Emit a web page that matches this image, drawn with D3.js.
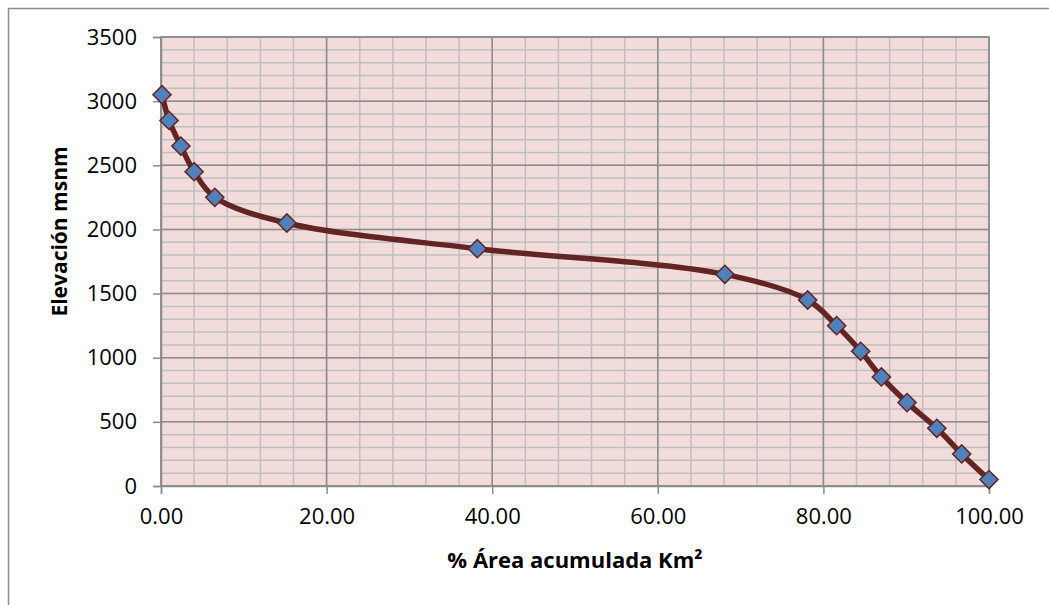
<!DOCTYPE html>
<html>
<head>
<meta charset="utf-8">
<script src="https://cdn.jsdelivr.net/npm/d3@7"></script>
<style>
  body { margin: 0; background: #fff; }
  svg { display: block; font-family: "Open Sans", Lato, sans-serif; }
</style>
</head>
<body>
<svg id="chart" width="1049" height="605"></svg>
<script>
// curva hipsométrica
const areaPct = [0.12, 0.97, 2.4, 4.0, 6.5, 15.2, 38.2, 68.1, 78.1, 81.6, 84.5, 87.0, 90.1, 93.7, 96.7, 100];
const elevation = [3050, 2850, 2650, 2450, 2250, 2050, 1850, 1650, 1450, 1250, 1050, 850, 650, 450, 250, 50];
const xTicks = [0, 20, 40, 60, 80, 100];
const yTicks = [0, 500, 1000, 1500, 2000, 2500, 3000, 3500];
const xMinor = d3.range(0, 101, 4);
const yMinor = d3.range(0, 3501, 100);

const svg = d3.select("#chart");
const plotLeft = 161, plotRight = 989, plotTop = 37, plotBottom = 486;

const x = d3.scaleLinear().domain([0, 100]).range([plotLeft, plotRight]);
const y = d3.scaleLinear().domain([0, 3500]).range([plotBottom, plotTop]);

// outer chart frame
svg.append("rect")
  .attr("x", 8.5).attr("y", 8.5)
  .attr("width", 1100).attr("height", 700)
  .attr("fill", "none").attr("stroke", "#8c8c8c").attr("stroke-width", 1.5);

// plot area
svg.append("rect")
  .attr("x", plotLeft).attr("y", plotTop)
  .attr("width", plotRight - plotLeft).attr("height", plotBottom - plotTop)
  .attr("fill", "#f2dcdb");

const grid = svg.append("g");
grid.selectAll(".vmin").data(xMinor).join("line")
  .attr("x1", d => x(d)).attr("x2", d => x(d))
  .attr("y1", plotTop).attr("y2", plotBottom)
  .attr("stroke", "#bfbfbf").attr("stroke-width", 1.5);
grid.selectAll(".hmin").data(yMinor).join("line")
  .attr("y1", d => y(d)).attr("y2", d => y(d))
  .attr("x1", plotLeft).attr("x2", plotRight)
  .attr("stroke", "#bfbfbf").attr("stroke-width", 1.5);
grid.selectAll(".vmaj").data(xTicks).join("line")
  .attr("x1", d => x(d)).attr("x2", d => x(d))
  .attr("y1", plotTop).attr("y2", plotBottom)
  .attr("stroke", "#8c8c8c").attr("stroke-width", 1.5);
grid.selectAll(".hmaj").data(yTicks).join("line")
  .attr("y1", d => y(d)).attr("y2", d => y(d))
  .attr("x1", plotLeft).attr("x2", plotRight)
  .attr("stroke", "#8c8c8c").attr("stroke-width", 1.5);

svg.append("rect")
  .attr("x", plotLeft).attr("y", plotTop)
  .attr("width", plotRight - plotLeft).attr("height", plotBottom - plotTop)
  .attr("fill", "none").attr("stroke", "#8c8c8c").attr("stroke-width", 1.5);

// axes
const xAxis = svg.append("g")
  .attr("transform", `translate(0,${plotBottom})`)
  .call(d3.axisBottom(x).tickValues(xTicks).tickFormat(d3.format(".2f")).tickSize(8).tickPadding(14));
const yAxis = svg.append("g")
  .attr("transform", `translate(${plotLeft},0)`)
  .call(d3.axisLeft(y).tickValues(yTicks).tickFormat(d => d).tickSize(8).tickPadding(16));

[xAxis, yAxis].forEach(a => {
  a.select(".domain").attr("stroke", "#8c8c8c").attr("stroke-width", 1.5);
  a.selectAll(".tick line").attr("stroke", "#8c8c8c").attr("stroke-width", 1.5);
  a.selectAll("text").attr("fill", "#000").style("font-size", "22px").style("font-family", "'Open Sans', sans-serif");
});

// titles
svg.append("text")
  .attr("x", (plotLeft + plotRight) / 2).attr("y", 568)
  .attr("text-anchor", "middle")
  .style("font-size", "22px").style("font-weight", "bold")
  .text("% Área acumulada Km²");
svg.append("text")
  .attr("transform", `translate(67,${(plotTop + plotBottom) / 2 - 30}) rotate(-90)`)
  .attr("text-anchor", "middle")
  .style("font-size", "21px").style("font-weight", "bold")
  .text("Elevación msnm");

// series
const pts = areaPct.map((a, i) => [a, elevation[i]]);
const line = d3.line()
  .x(d => x(d[0])).y(d => y(d[1]))
  .curve(d3.curveCatmullRom.alpha(0.5));

svg.append("path")
  .datum(pts)
  .attr("d", line)
  .attr("fill", "none")
  .attr("stroke", "#632523")
  .attr("stroke-width", 5.5)
  .attr("stroke-linejoin", "round");

svg.selectAll(".pt").data(pts).join("path")
  .attr("transform", d => `translate(${x(d[0])},${y(d[1])}) rotate(45)`)
  .attr("d", d3.symbol().type(d3.symbolSquare).size(165))
  .attr("fill", "#4f81bd")
  .attr("stroke", "#632523")
  .attr("stroke-width", 1.5);
</script>
</body>
</html>
